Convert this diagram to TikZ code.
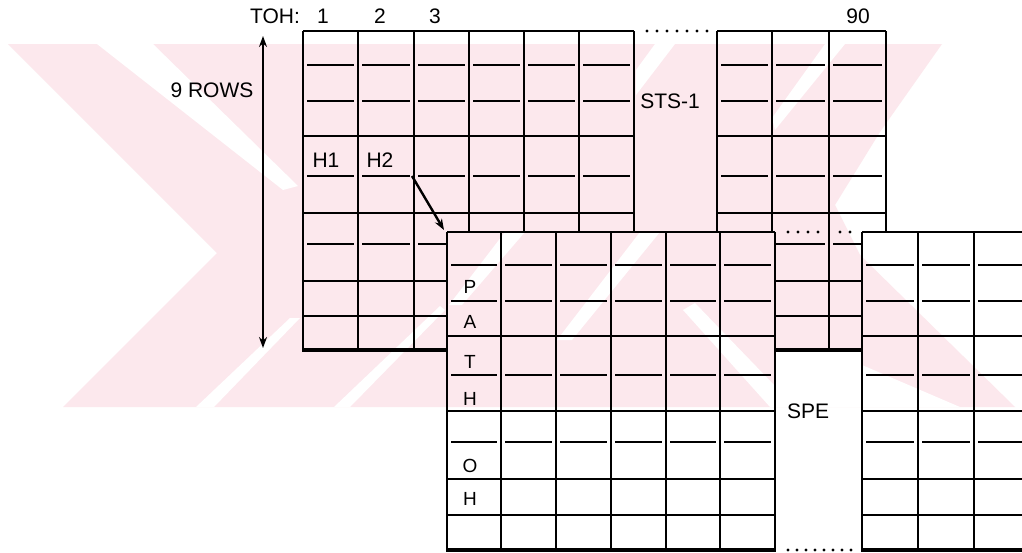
\documentclass[tikz,border=0pt]{standalone}
\usepackage{fontspec}
\setmainfont{Liberation Sans}
\usetikzlibrary{arrows.meta}
\definecolor{wm}{RGB}{252,232,237}
\tikzset{
  gridline/.style={line width=2.2pt, black},
  heavyline/.style={line width=4.4pt, black},
  lbl/.style={font=\fontsize{21}{25}\selectfont, anchor=base, inner sep=0pt},
  letterlbl/.style={font=\fontsize{19}{23}\selectfont, anchor=base, inner sep=0pt},
  ptr/.style={line width=2.4pt, -{Stealth[length=11pt,width=8pt]}},
  dblptr/.style={line width=2.2pt, {Stealth[length=11pt,width=8pt]}-{Stealth[length=11pt,width=8pt]}},
  dotmark/.style={black},
}
\newcommand\wmark{%
  \fill[wm] (8,44) -- (942,44) -- (880,132) -- (835,205) -- (860,255) -- (1015,407) -- (63,407) -- (217,253) -- cycle;
  \fill[white] (97,44) -- (153,44) -- (298,186) -- (283,190) -- cycle;
  \fill[white] (196,407) -- (214,407) -- (300,318) -- (290,318) -- cycle;
  \fill[white] (334,407) -- (350,407) -- (445,310) -- (440,306) -- cycle;
  \fill[white] (655,44) -- (675,44) -- (636,95) -- (636,70) -- cycle;
  \fill[white] (825,44) -- (845,44) -- (775,130) -- (772,118) -- cycle;
  \fill[white] (505,232) -- (525,232) -- (462,305) -- (449,305) -- cycle;
  \fill[white] (640,232) -- (660,232) -- (572,340) -- (557,340) -- cycle;
  \fill[white] (683,310) -- (695,303) -- (777,388) -- (777,407) -- (770,407) -- cycle;
  \fill[white] (776,351) -- (862,351) -- (862,365) -- (960,407) -- (776,407) -- cycle;
}
\begin{document}
\begin{tikzpicture}[x=1pt,y=-1pt]
\useasboundingbox (0,0) rectangle (1022,552);
\fill[white] (0,0) rectangle (1022,552);
\wmark

% ---------- STS-1 frame (top) ----------
\foreach \x in {303,358,414,469,524,579,634} \draw[gridline] (\x,31) -- (\x,351);
\foreach \x in {717,772,829,886} \draw[gridline] (\x,31) -- (\x,351);
\draw[gridline] (303,31) -- (634,31);
\draw[gridline] (717,31) -- (886,31);
\foreach \y in {136,213,281,316} {
  \draw[gridline] (303,\y) -- (634,\y);
  \draw[gridline] (717,\y) -- (886,\y);
}
\foreach \y in {65,101,176,244} {
  \foreach \a/\b in {303/358,358/414,414/469,469/524,524/579,579/634,717/772,772/829,829/886}
    \draw[gridline] (\a+4,\y) -- (\b-4,\y);
}
\draw[heavyline] (302,350) -- (887,350);
\foreach \x in {647,657,...,707} \fill[dotmark] (\x,31) circle (1.6);

% ---------- SPE frame (bottom) ----------
\fill[white] (447,232) rectangle (775,552);
\fill[white] (862,232) rectangle (1022,552);
\begin{scope}
  \clip (447,232) rectangle (775,552) (862,232) rectangle (1022,552);
  \wmark
\end{scope}
\foreach \x in {447,501,556,611,666,720,775} \draw[gridline] (\x,232) -- (\x,552);
\foreach \x in {862,918,974} \draw[gridline] (\x,232) -- (\x,552);
\draw[gridline] (447,232) -- (775,232);
\draw[gridline] (862,232) -- (1022,232);
\foreach \y in {336,411,479,515} {
  \draw[gridline] (447,\y) -- (775,\y);
  \draw[gridline] (862,\y) -- (1022,\y);
}
\foreach \y in {265,301,375,442} {
  \foreach \a/\b in {447/501,501/556,556/611,611/666,666/720,720/775,862/918,918/974,974/1030}
    \draw[gridline] (\a+4,\y) -- (\b-4,\y);
}
\draw[heavyline] (446,550) -- (776,550);
\draw[heavyline] (861,550) -- (1022,550);
\foreach \x in {788,798,808,818,840,850} \fill[dotmark] (\x,232) circle (1.6);
\foreach \x in {788,797,...,852} \fill[dotmark] (\x,550) circle (1.6);

% ---------- labels ----------
\node[lbl] (toh) at (275,23.5) {TOH:};
\node[lbl] (c1) at (323,23.5) {1};
\node[lbl] (c2) at (380,23.5) {2};
\node[lbl] (c3) at (435,23.5) {3};
\node[lbl] (c90) at (858,23.5) {90};
\node[lbl] (rows) at (212,97) {9 ROWS};
\node[lbl] (sts) at (670,108) {STS-1};
\node[lbl] (spe) at (808,418) {SPE};
\node[lbl] (h1) at (326,167) {H1};
\node[lbl] (h2) at (380,167) {H2};
\node[letterlbl] (lp) at (470,293) {P};
\node[letterlbl] (la) at (470,328) {A};
\node[letterlbl] (lt) at (470,368) {T};
\node[letterlbl] (lh) at (470,405) {H};
\node[letterlbl] (lo) at (470,472) {O};
\node[letterlbl] (lh2) at (470,505) {H};

% ---------- arrows ----------
\coordinate (h2corner) at (412,176);
\coordinate (specorner) at (444,230);
\draw[ptr] (h2corner) -- (specorner);
\coordinate (rowtop) at (263,36);
\coordinate (rowbot) at (263,348);
\draw[dblptr] (rowtop) -- (rowbot);
\end{tikzpicture}
\end{document}
